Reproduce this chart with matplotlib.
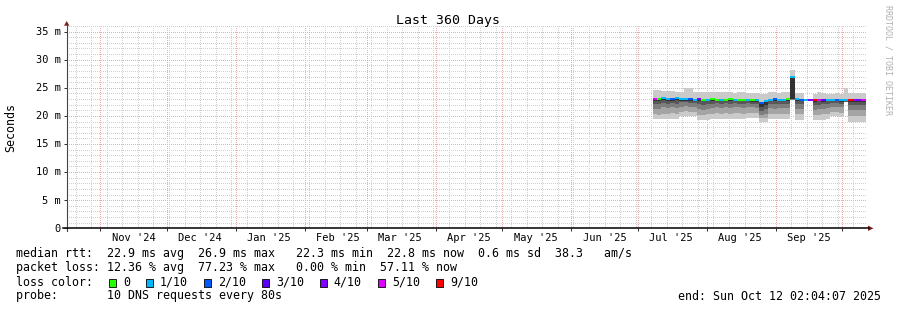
import datetime as dt
import numpy as np
import matplotlib
matplotlib.use("Agg")
import matplotlib.pyplot as plt
import matplotlib.dates as mdates
from matplotlib.patches import Rectangle, Polygon
from matplotlib.transforms import offset_copy

W, H = 897, 310
MONO = "DejaVu Sans Mono"

END = dt.datetime(2025, 10, 12, 2, 4, 7)
BEGIN = END - dt.timedelta(days=360)
DATA_START = dt.datetime(2025, 7, 7, 14, 0)
BIN_DAYS = 2

nan = float("nan")

# median rtt per 2-day bin (ms)
median_ms = [23.0, 23.0, 23.1, 23.0, 23.0, 23.1, 23.0, 23.0, 23.0, 22.9, 23.0, 22.9,
             22.9, 23.0, 22.9, 22.9, 22.9, 23.0, 22.9, 22.9, 22.9, 22.9, 22.8, 22.8,
             22.3, 22.6, 22.9, 23.0, 22.9, 22.9, 23.0, 26.9, 23.0, 22.9, 22.9, 22.8,
             22.8, 22.9, 22.8, 22.9, 22.9, 22.9, 22.8, 22.9, 22.8, 22.8, 22.8, 22.8]

# lost pings out of 10
loss_count = [5, 0, 1, 1, 2, 1, 1, 1, 2, 1, 4, 0, 1, 0, 0, 1, 0, 0, 1, 0, 0, 1, 0, 1,
              2, 1, 1, 2, 1, 1, 0, 1, 1, 2, 1, 4, 9, 5, 3, 1, 1, 2, 1, 1, 9, 4, 4, 5]

# smoke: highest ping and the five lower sorted pings (ms)
smoke_top = [24.6, 24.6, 24.5, 24.4, 24.4, 24.3, 24.3, 25.0, 24.9, 24.3, 24.2, 24.2,
             24.2, 24.3, 24.2, 24.2, 24.2, 24.2, 24.1, 24.2, 24.2, 24.1, 24.1, 24.0,
             23.9, 23.9, 24.2, 24.2, 24.1, 24.2, 24.2, 28.2, 24.1, 24.1, 24.1, nan,
             23.9, 24.3, 24.0, 23.9, 23.9, 24.0, 23.9, 25.0, 24.0, 24.0, 24.0, 24.0]
smoke_low1 = [19.4, 19.4, 19.4, 19.4, 19.5, 19.4, 19.9, 19.9, 20.0, 19.9, 19.3, 19.3,
              19.3, 19.4, 19.4, 19.4, 19.5, 19.4, 19.4, 19.5, 19.4, 19.6, 19.6, 19.6,
              19.0, 19.0, 19.4, 19.4, 19.4, 19.4, 19.4, 22.8, 19.3, 19.3, 19.3, nan,
              19.3, 19.3, 19.3, 19.4, 19.9, 19.9, 19.8, 22.4, 19.0, 19.0, 19.0, 19.0]
smoke_low2 = [20.3, 20.2, 20.4, 20.4, 20.5, 20.4, 20.7, 20.8, 20.7, 20.7, 20.2, 20.1,
              20.3, 20.4, 20.5, 20.4, 20.5, 20.4, 20.5, 20.5, 20.4, 20.6, 20.6, 20.5,
              19.6, 19.7, 20.4, 20.3, 20.4, 20.4, 20.4, 22.85, 20.3, 20.3, 20.2, nan,
              20.1, 20.2, 20.3, 20.4, 20.7, 20.7, 20.6, 22.5, 19.9, 19.9, 20.0, 19.9]
smoke_low3 = [21.3, 21.2, 21.5, 21.4, 21.5, 21.4, 21.6, 21.7, 21.6, 21.6, 21.2, 21.1,
              21.3, 21.4, 21.5, 21.4, 21.5, 21.4, 21.5, 21.5, 21.4, 21.5, 21.5, 21.4,
              20.2, 20.4, 21.4, 21.3, 21.4, 21.4, 21.4, 22.9, 21.3, 21.3, 21.2, nan,
              21.1, 21.2, 21.3, 21.4, 21.6, 21.6, 21.5, 22.4, 21.0, 21.0, 21.1, 21.0]
smoke_low4 = [22.1, 22.2, 22.3, 22.2, 22.3, 22.2, 22.4, 22.4, 22.3, 22.3, 22.1, 22.0,
              22.2, 22.2, 22.3, 22.2, 22.3, 22.2, 22.3, 22.2, 22.2, 22.3, 22.2, 22.1,
              20.8, 21.2, 22.2, 22.2, 22.1, 22.2, 22.2, 22.95, 22.1, 22.1, 22.0, nan,
              21.9, 22.0, 22.1, 22.2, 22.3, 22.3, 22.2, 22.5, 21.9, 21.9, 22.0, 21.9]
smoke_low5 = [22.7, 22.7, 22.8, 22.7, 22.7, 22.8, 22.7, 22.7, 22.7, 22.6, 22.7, 22.6,
              22.6, 22.7, 22.6, 22.6, 22.6, 22.7, 22.6, 22.6, 22.6, 22.6, 22.5, 22.5,
              21.6, 21.9, 22.6, 22.7, 22.6, 22.6, 22.7, 23.0, 22.7, 22.6, 22.6, nan,
              22.5, 22.6, 22.5, 22.6, 22.6, 22.6, 22.5, 22.6, 22.5, 22.5, 22.5, 22.5]

loss_keys = [0, 1, 2, 3, 4, 5, 9]
loss_labels = ["0", "1/10", "2/10", "3/10", "4/10", "5/10", "9/10"]
loss_colors = ["#26ff00", "#00b8ff", "#0059ff", "#5e00ff", "#7e00ff", "#dd00ff", "#ff0000"]
smoke_colors = ["#cacaca", "#a4a4a4", "#7e7e7e", "#585858", "#323232"]

legend_rows = [
    "median rtt:  22.9 ms avg  26.9 ms max   22.3 ms min  22.8 ms now  0.6 ms sd  38.3   am/s",
    "packet loss: 12.36 % avg  77.23 % max   0.00 % min  57.11 % now",
]
probe_text = "probe:       10 DNS requests every 80s"
end_text = "end: Sun Oct 12 02:04:07 2025"


def fx(x):
    return x / W


def fy(y):
    return 1 - y / H


def loss_color(n):
    col = loss_colors[0]
    for key, c in zip(loss_keys, loss_colors):
        if n >= key:
            col = c
    return col


fig = plt.figure(figsize=(W / 100, H / 100), dpi=100)
X0, X1, Y0, Y1 = 67, 867, 228.3, 26
ax = fig.add_axes([fx(X0), fy(Y0), (X1 - X0) / W, (Y0 - Y1) / H])
ax.set_xlim(mdates.date2num(BEGIN), mdates.date2num(END))
ax.set_ylim(0, 36.0)
for s in ax.spines.values():
    s.set_visible(False)

# grid: weekly / 1 ms minor, monthly / 5 ms major, dotted
months = [dt.datetime(2024 + (10 + k) // 12, (10 + k) % 12 + 1, 1) for k in range(12)]
months = [m for m in months if BEGIN <= m <= END]
mondays = [BEGIN.date() + dt.timedelta(days=d) for d in range(361)]
mondays = [dt.datetime.combine(d, dt.time()) for d in mondays if d.weekday() == 0]
ax.set_xticks(mdates.date2num(months))
ax.set_xticks(mdates.date2num(mondays), minor=True)
ax.set_yticks(range(0, 36, 5))
ax.set_yticks(range(0, 37), minor=True)
ax.grid(which="minor", color="#d0d0d0", lw=0.72, ls=(0.5, (1, 1)))
ax.grid(which="major", color="#f2aaaa", lw=0.72, ls=(0.5, (1, 1)))
ax.set_axisbelow(True)
ax.tick_params(which="both", labelbottom=False, labelleft=False)
ax.tick_params(which="minor", length=0)
ax.tick_params(which="major", length=2.2, width=0.72, color="#333333", direction="out")

# smoke
edges = mdates.date2num([DATA_START + dt.timedelta(days=BIN_DAYS * i)
                         for i in range(len(median_ms) + 1)])


def stepped(vals):
    return np.append(vals, vals[-1])


lows = [smoke_low1, smoke_low2, smoke_low3, smoke_low4, smoke_low5]
for k, (low, col) in enumerate(zip(lows, smoke_colors)):
    top = smoke_top if k == 0 else median_ms
    ax.fill_between(edges, stepped(low), stepped(top), step="post",
                    color=col, lw=0, zorder=3)

# median line coloured by loss
for i, m in enumerate(median_ms):
    ax.plot([edges[i], edges[i + 1]], [m, m],
            color=loss_color(loss_count[i]), lw=1.44,
            solid_capstyle="butt", zorder=4)

# y labels
ytr = offset_copy(ax.get_yaxis_transform(), fig=fig, x=-6.5, y=-3.3, units="dots")
for v in range(0, 36, 5):
    ax.text(0, v, f"{v} m" if v else "0", transform=ytr, ha="right", va="baseline",
            family=MONO, fontsize=7.5, color="#000000")

# month labels centred half a month after each start
xtr = offset_copy(ax.get_xaxis_transform(), fig=fig, y=-13.0, units="dots")
for m in months:
    mid = m + dt.timedelta(days=15)
    if mid <= END:
        ax.text(mdates.date2num(mid), 0, mid.strftime("%b '%y"), transform=xtr,
                ha="center", va="baseline", family=MONO, fontsize=7.5)

# axes with arrows
fig.add_artist(plt.Line2D([fx(X0 - 0.3), fx(X0 - 0.3)], [fy(Y0 + 3), fy(24)],
                          color="#444444", lw=0.8))
fig.add_artist(plt.Line2D([fx(X0 - 4), fx(869)], [fy(Y0), fy(Y0)],
                          color="#000000", lw=1.1))
fig.add_artist(Polygon([(fx(64), fy(25.7)), (fx(69.4), fy(25.7)), (fx(66.7), fy(21))],
                       closed=True, color="#7f1f1f", lw=0))
fig.add_artist(Polygon([(fx(868), fy(Y0 - 2.7)), (fx(868), fy(Y0 + 2.7)), (fx(873.5), fy(Y0))],
                       closed=True, color="#7f1f1f", lw=0))

# texts
fig.text(fx(448), fy(24), "Last 360 Days", ha="center", va="baseline",
         family=MONO, fontsize=9.5)
fig.text(fx(11), fy(127), "Seconds", rotation=90, ha="center", va="center",
         family=MONO, fontsize=8.4)
fig.text(fx(888), fy(5), "RRDTOOL / TOBI OETIKER", rotation=270, ha="center", va="top",
         family=MONO, fontsize=6, color="#b0b0b0")

for row, txt in enumerate(legend_rows):
    fig.text(fx(16), fy(257.5 + 14 * row), txt, ha="left", va="baseline",
             family=MONO, fontsize=8.4)
fig.text(fx(16), fy(285.5), "loss color:", ha="left", va="baseline",
         family=MONO, fontsize=8.4)
bx = 108.5
for lab, col in zip(loss_labels, loss_colors):
    fig.add_artist(Rectangle((fx(bx), fy(286.7)), 7.5 / W, 7.5 / H,
                             facecolor=col, edgecolor="#000000", lw=0.6))
    lx = bx + 14.3
    fig.text(fx(lx), fy(285.5), lab, ha="left", va="baseline", family=MONO, fontsize=8.4)
    bx = lx + 7.0 * len(lab) + 15.7
fig.text(fx(16), fy(299.5), probe_text, ha="left", va="baseline", family=MONO, fontsize=8.4)
fig.text(fx(881), fy(299.5), end_text, ha="right", va="baseline", family=MONO, fontsize=8.4)

fig.savefig("out.png", dpi=100, facecolor="white")
